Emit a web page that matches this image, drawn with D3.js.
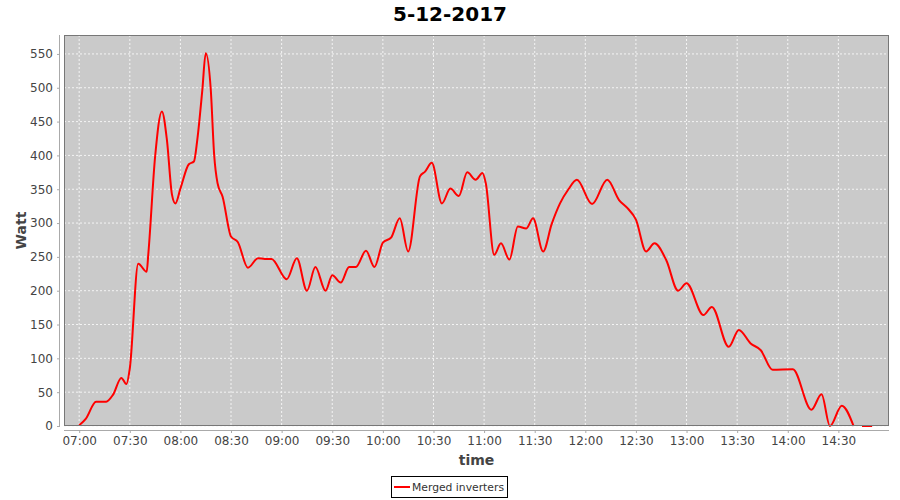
<!DOCTYPE html>
<html><head><meta charset="utf-8">
<script src="https://cdn.jsdelivr.net/npm/d3@7"></script>
<style>
html,body{margin:0;padding:0;background:#fff;}
svg{display:block;font-family:"DejaVu Sans",sans-serif;}
</style></head>
<body>
<svg id="chart" width="900" height="500"></svg>
<script>
const title = "5-12-2017";
const seriesName = "Merged inverters";
const times = ["07:00","07:04","07:10","07:16","07:20","07:25","07:28","07:30","07:35","07:40","07:41","07:45","07:49","07:52","07:55","07:57","08:00","08:05","08:08","08:10","08:13","08:15","08:18","08:20","08:22","08:25","08:30","08:34","08:40","08:46","08:50","08:54","09:03","09:09","09:15","09:20","09:26","09:30","09:35","09:40","09:44","09:50","09:55","10:00","10:05","10:10","10:15","10:22","10:25","10:29","10:35","10:40","10:45","10:50","10:55","10:59","11:01","11:06","11:10","11:15","11:20","11:25","11:29","11:35","11:40","11:45","11:50","11:55","12:04","12:13","12:20","12:25","12:30","12:36","12:41","12:48","12:55","13:00","13:10","13:15","13:25","13:31","13:38","13:44","13:51","14:03","14:14","14:20","14:25","14:32","14:39","14:41","14:44","14:50"];
// null marks a gap in the record
const watts = [1,11,36,36,46,71,62,85,240,228,255,398,465,423,342,329,351,387,391,423,497,551,497,401,359,339,280,272,234,248,247,247,217,248,200,235,200,223,212,235,235,259,235,271,279,307,258,369,376,389,329,351,340,375,364,374,359,253,270,246,295,292,307,258,298,329,350,364,328,364,334,322,305,258,270,245,200,211,164,176,117,142,122,112,83,84,24,47,0,30,0,null,0,0];
const yTicks = [0,50,100,150,200,250,300,350,400,450,500,550];
const xTickLabels = ["07:00","07:30","08:00","08:30","09:00","09:30","10:00","10:30","11:00","11:30","12:00","12:30","13:00","13:30","14:00","14:30"];
</script>
<script>
function toDate(s){const [h,m]=s.split(":").map(Number);return new Date(2017,4,12,h,m);}
const data = times.map((t,i)=>({t:toDate(t), v:watts[i]}));

const svg = d3.select("#chart");
const L=64,R=889,T=35,B=426;
const x = d3.scaleTime().domain([new Date(2017,4,12,6,51), new Date(2017,4,12,15,0)]).range([L,R]);
const y = d3.scaleLinear().domain([0,578]).range([B,T]);

svg.append("text").attr("x",450).attr("y",21).attr("text-anchor","middle")
  .attr("font-size",20).attr("font-weight","bold").attr("fill","#000").text(title);

svg.append("rect").attr("x",L).attr("y",T).attr("width",R-L).attr("height",B-T).attr("fill","#cacaca");

const xt = xTickLabels.map(toDate);
const g = svg.append("g");
g.selectAll("line.vg").data(xt).enter().append("line")
  .attr("x1",d=>x(d)).attr("x2",d=>x(d)).attr("y1",T).attr("y2",B)
  .attr("stroke","#f4f4f4").attr("stroke-dasharray","2,2").attr("stroke-width",1);
g.selectAll("line.hg").data(yTicks).enter().append("line")
  .attr("x1",L).attr("x2",R).attr("y1",d=>y(d)).attr("y2",d=>y(d))
  .attr("stroke","#f4f4f4").attr("stroke-dasharray","2,2").attr("stroke-width",1);

const line = d3.line().defined(d=>d.v!==null).x(d=>x(d.t)).y(d=>y(d.v)).curve(d3.curveMonotoneX);
svg.append("path").datum(data).attr("d",line).attr("fill","none").attr("stroke","#ff0000").attr("stroke-width",2);

svg.append("rect").attr("x",L+0.5).attr("y",T+0.5).attr("width",R-L-1).attr("height",B-T-1)
  .attr("fill","none").attr("stroke","#777").attr("stroke-width",1);

const fmt = d3.timeFormat("%H:%M");
const xAxis = svg.append("g").attr("transform","translate(0,430)")
  .call(d3.axisBottom(x).tickValues(xt).tickFormat(fmt).tickSize(3).tickSizeOuter(0).tickPadding(3));
const yAxis = svg.append("g").attr("transform","translate(60,0)")
  .call(d3.axisLeft(y).tickValues(yTicks).tickSize(3).tickSizeOuter(0).tickPadding(4));
[xAxis,yAxis].forEach(a=>{
  a.select(".domain").attr("stroke","#aaa");
  a.selectAll(".tick line").attr("stroke","#aaa");
  a.selectAll(".tick text").attr("fill","#444").attr("font-size",12).attr("font-family","DejaVu Sans, sans-serif");
});
xAxis.select(".domain").attr("d",`M${L},0.5H${R}`);
yAxis.select(".domain").attr("d",`M-0.5,${T}V${B}`);

svg.append("text").attr("x",(L+R)/2).attr("y",465).attr("text-anchor","middle")
  .attr("font-size",14).attr("font-weight","bold").attr("fill","#444").text("time");
svg.append("text").attr("transform",`translate(26,${(T+B)/2}) rotate(-90)`).attr("text-anchor","middle")
  .attr("font-size",14).attr("font-weight","bold").attr("fill","#444").text("Watt");

const lg = svg.append("g");
lg.append("rect").attr("x",391.5).attr("y",476.5).attr("width",116).attr("height",21).attr("fill","#fff").attr("stroke","#000");
lg.append("line").attr("x1",394).attr("x2",410).attr("y1",487).attr("y2",487).attr("stroke","#ff0000").attr("stroke-width",2);
lg.append("text").attr("x",412).attr("y",491).attr("font-size",11).attr("fill","#333")
  .attr("textLength",92).attr("lengthAdjust","spacingAndGlyphs").text(seriesName);
</script>
</body></html>
